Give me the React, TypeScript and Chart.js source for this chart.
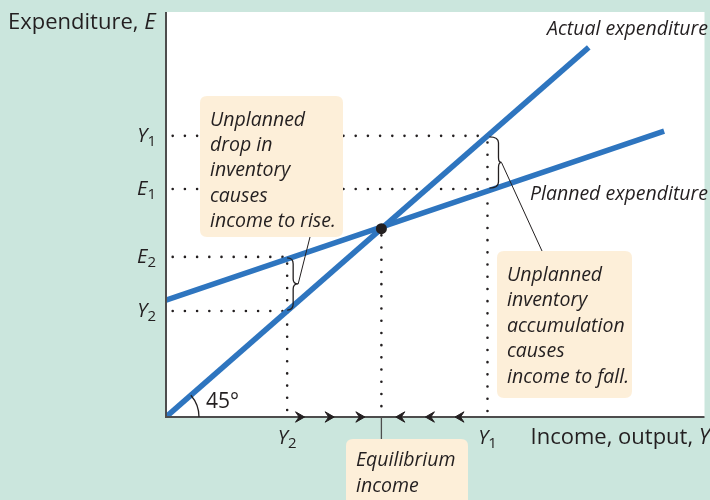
import React, { useEffect, useRef } from "react";
import { Chart, registerables } from "chart.js";

Chart.register(...registerables);

// ---------- data ----------
const xRange = [0, 100];
const yRange = [0, 86];
const actualExpenditure = [
  { x: 0, y: 0 },
  { x: 78.5, y: 78.5 },
];
const plannedExpenditure = [
  { x: 0, y: 24.8 },
  { x: 92.5, y: 60.7 },
];
const incomeY2 = 22.5;
const incomeEq = 40;
const incomeY1 = 59.7;
const expenditureE1 = 48.4;
const expenditureE2 = 34.0;
const expenditureEq = 40;
const rightArrows = [24.8, 30.3, 36.0];
const leftArrows = [43.6, 49.1, 54.6];
const yTickLabels = [
  { main: "Y", sub: "1", value: incomeY1 },
  { main: "E", sub: "1", value: expenditureE1 },
  { main: "E", sub: "2", value: expenditureE2 },
  { main: "Y", sub: "2", value: incomeY2 },
];
const xTickLabels = [
  { main: "Y", sub: "2", value: incomeY2 },
  { main: "Y", sub: "1", value: incomeY1 },
];
const box1Lines = ["Unplanned", "drop in", "inventory", "causes", "income to rise."];
const box2Lines = ["Unplanned", "inventory", "accumulation", "causes", "income to fall."];
const box3Lines = ["Equilibrium", "income"];

// ---------- styles ----------
const MINT = "#cbe6dd";
const CREAM = "#fdefd9";
const BLUE = "#2e75bf";
const INK = "#231f20";
const AXIS = "#4d4d4d";
const FONT = "'Open Sans', Lato, sans-serif";

type Seg = { text: string; font: string; dy?: number };

function drawSegs(ctx: CanvasRenderingContext2D, segs: Seg[], x: number, y: number, align: "left" | "right" | "center") {
  let total = 0;
  const widths = segs.map((s) => {
    ctx.font = s.font;
    const w = ctx.measureText(s.text).width;
    total += w;
    return w;
  });
  let cx = align === "left" ? x : align === "right" ? x - total : x - total / 2;
  ctx.textAlign = "left";
  ctx.textBaseline = "alphabetic";
  segs.forEach((s, i) => {
    ctx.font = s.font;
    ctx.fillText(s.text, cx, y + (s.dy || 0));
    cx += widths[i];
  });
}

function roundRect(ctx: CanvasRenderingContext2D, x: number, y: number, w: number, h: number, r: number) {
  ctx.beginPath();
  ctx.moveTo(x + r, y);
  ctx.lineTo(x + w - r, y);
  ctx.quadraticCurveTo(x + w, y, x + w, y + r);
  ctx.lineTo(x + w, y + h - r);
  ctx.quadraticCurveTo(x + w, y + h, x + w - r, y + h);
  ctx.lineTo(x + r, y + h);
  ctx.quadraticCurveTo(x, y + h, x, y + h - r);
  ctx.lineTo(x, y + r);
  ctx.quadraticCurveTo(x, y, x + r, y);
  ctx.closePath();
}

function drawBrace(ctx: CanvasRenderingContext2D, x: number, y1: number, y2: number, inner: number, tip: number) {
  const ym = (y1 + y2) / 2;
  ctx.beginPath();
  ctx.moveTo(x, y1);
  ctx.quadraticCurveTo(x + inner, y1, x + inner, y1 + 6);
  ctx.lineTo(x + inner, ym - 5);
  ctx.quadraticCurveTo(x + inner, ym, x + tip, ym);
  ctx.quadraticCurveTo(x + inner, ym, x + inner, ym + 5);
  ctx.lineTo(x + inner, y2 - 6);
  ctx.quadraticCurveTo(x + inner, y2, x, y2);
  ctx.stroke();
}

function drawChevron(ctx: CanvasRenderingContext2D, x: number, y: number, dir: number) {
  ctx.beginPath();
  ctx.moveTo(x + dir * 5, y);
  ctx.lineTo(x - dir * 4, y - 5.2);
  ctx.lineTo(x - dir * 0.5, y);
  ctx.lineTo(x - dir * 4, y + 5.2);
  ctx.closePath();
  ctx.fill();
  ctx.lineWidth = 1;
  ctx.stroke();
}

const dotted = (data: { x: number; y: number }[]) => ({
  data,
  showLine: true,
  borderColor: INK,
  borderWidth: 2.6,
  borderDash: [0, 12.2],
  borderDashOffset: 5.5,
  borderCapStyle: "round" as const,
  pointRadius: 0,
  order: 5,
});

const decorPlugin = {
  id: "decor",
  beforeDraw(chart: any) {
    const { ctx, chartArea: a } = chart;
    ctx.save();
    ctx.fillStyle = MINT;
    ctx.fillRect(0, 0, chart.width, chart.height);
    ctx.fillStyle = "#ffffff";
    ctx.fillRect(a.left, a.top, a.right - a.left, a.bottom - a.top);
    ctx.restore();
  },
  afterDatasetsDraw(chart: any) {
    const { ctx, chartArea: a } = chart;
    const xs = chart.scales.x;
    const ys = chart.scales.y;
    const px = (v: number) => xs.getPixelForValue(v);
    const py = (v: number) => ys.getPixelForValue(v);
    ctx.save();

    // axes
    ctx.strokeStyle = AXIS;
    ctx.lineWidth = 2;
    ctx.beginPath();
    ctx.moveTo(a.left, a.top);
    ctx.lineTo(a.left, a.bottom);
    ctx.lineTo(a.right, a.bottom);
    ctx.stroke();

    // equilibrium tick below axis
    ctx.lineWidth = 1.3;
    ctx.beginPath();
    ctx.moveTo(px(incomeEq), a.bottom);
    ctx.lineTo(px(incomeEq), 440);
    ctx.stroke();

    // 45 degree arc
    const ang = Math.atan2(py(0) - py(actualExpenditure[1].y), px(actualExpenditure[1].x) - px(0));
    ctx.strokeStyle = INK;
    ctx.lineWidth = 1.3;
    ctx.beginPath();
    ctx.arc(px(0), py(0), 33, -ang, 0);
    ctx.stroke();

    // braces
    ctx.strokeStyle = INK;
    ctx.lineWidth = 1.3;
    drawBrace(ctx, px(incomeY1) + 2, py(incomeY1) + 1, py(expenditureE1) - 1, 9, 12);
    drawBrace(ctx, px(incomeY2) + 0, py(expenditureE2) + 1, py(incomeY2) - 1, 6, 11);

    // leader lines
    ctx.lineWidth = 1;
    ctx.beginPath();
    ctx.moveTo(px(incomeY1) + 14, (py(incomeY1) + py(expenditureE1)) / 2);
    ctx.lineTo(542, 251);
    ctx.moveTo(px(incomeY2) + 11, (py(expenditureE2) + py(incomeY2)) / 2);
    ctx.lineTo(310, 237);
    ctx.stroke();

    // chevrons on x-axis
    ctx.fillStyle = INK;
    ctx.strokeStyle = INK;
    const yA = a.bottom;
    rightArrows.forEach((v) => drawChevron(ctx, px(v), yA, 1));
    leftArrows.forEach((v) => drawChevron(ctx, px(v), yA, -1));

    // boxes
    ctx.fillStyle = CREAM;
    roundRect(ctx, 200, 96, 143, 141, 7);
    ctx.fill();
    roundRect(ctx, 497, 251, 135, 147, 7);
    ctx.fill();
    roundRect(ctx, 346, 439, 122, 80, 7);
    ctx.fill();

    ctx.fillStyle = INK;
    const itFont = `italic 19.5px ${FONT}`;
    ctx.font = itFont;
    ctx.textAlign = "left";
    ctx.textBaseline = "alphabetic";
    box1Lines.forEach((t, i) => ctx.fillText(t, 210, 126 + i * 25.2));
    box2Lines.forEach((t, i) => ctx.fillText(t, 507, 281 + i * 25.4));
    box3Lines.forEach((t, i) => ctx.fillText(t, 356, 466 + i * 25.7));

    // line labels
    ctx.textAlign = "right";
    ctx.fillText("Actual expenditure", 708, 35);
    ctx.fillText("Planned expenditure", 708, 200);

    // 45°
    ctx.textAlign = "left";
    ctx.font = `21px ${FONT}`;
    ctx.fillText("45°", 206, 408);

    // axis titles
    drawSegs(ctx, [
      { text: "Expenditure, ", font: `22px ${FONT}` },
      { text: "E", font: `italic 22px ${FONT}` },
    ], 8, 29, "left");
    drawSegs(ctx, [
      { text: "Income, output, ", font: `22px ${FONT}` },
      { text: "Y", font: `italic 22px ${FONT}` },
    ], 710, 444, "right");

    // tick labels
    yTickLabels.forEach((t) => {
      const y = py(t.value);
      drawSegs(ctx, [
        { text: t.main, font: `italic 20px ${FONT}` },
        { text: t.sub, font: `15px ${FONT}`, dy: 4 },
      ], 156, y + 6, "right");
    });
    xTickLabels.forEach((t) => {
      const x = px(t.value);
      drawSegs(ctx, [
        { text: t.main, font: `italic 20px ${FONT}` },
        { text: t.sub, font: `15px ${FONT}`, dy: 4 },
      ], x, 444, "center");
    });

    ctx.restore();
  },
};

export default function App() {
  const ref = useRef<HTMLCanvasElement | null>(null);
  useEffect(() => {
    document.body.style.margin = "0";
    const canvas = ref.current!;
    const chart = new Chart(canvas, {
      type: "scatter",
      data: {
        datasets: [
          {
            data: [{ x: incomeEq, y: expenditureEq }],
            pointRadius: 5.5,
            pointBackgroundColor: INK,
            pointBorderWidth: 0,
            showLine: false,
            order: 0,
          } as any,
          {
            data: actualExpenditure,
            showLine: true,
            borderColor: BLUE,
            borderWidth: 5.5,
            pointRadius: 0,
            order: 1,
          },
          {
            data: plannedExpenditure,
            showLine: true,
            borderColor: BLUE,
            borderWidth: 5.5,
            pointRadius: 0,
            order: 1,
          },
          dotted([{ x: 0, y: incomeY1 }, { x: incomeY1, y: incomeY1 }]),
          dotted([{ x: incomeY1, y: incomeY1 }, { x: incomeY1, y: 0 }]),
          dotted([{ x: 0, y: expenditureE1 }, { x: incomeY1, y: expenditureE1 }]),
          dotted([{ x: 0, y: expenditureE2 }, { x: incomeY2, y: expenditureE2 }]),
          dotted([{ x: incomeY2, y: expenditureE2 }, { x: incomeY2, y: 0 }]),
          dotted([{ x: 0, y: incomeY2 }, { x: incomeY2, y: incomeY2 }]),
          dotted([{ x: incomeEq, y: expenditureEq }, { x: incomeEq, y: 0 }]),
        ] as any,
      },
      options: {
        responsive: false,
        animation: false,
        devicePixelRatio: 1,
        layout: { padding: { left: 166, right: 0, top: 12, bottom: 83 } },
        scales: {
          x: { type: "linear", min: xRange[0], max: xRange[1], display: false },
          y: { type: "linear", min: yRange[0], max: yRange[1], display: false },
        },
        plugins: {
          legend: { display: false },
          tooltip: { enabled: false },
        },
        events: [],
      },
      plugins: [decorPlugin],
    });
    return () => chart.destroy();
  }, []);
  return (
    <div style={{ position: "absolute", left: 0, top: 0, width: 710, height: 500 }}>
      <canvas ref={ref} width={710} height={500} style={{ display: "block" }} />
    </div>
  );
}
